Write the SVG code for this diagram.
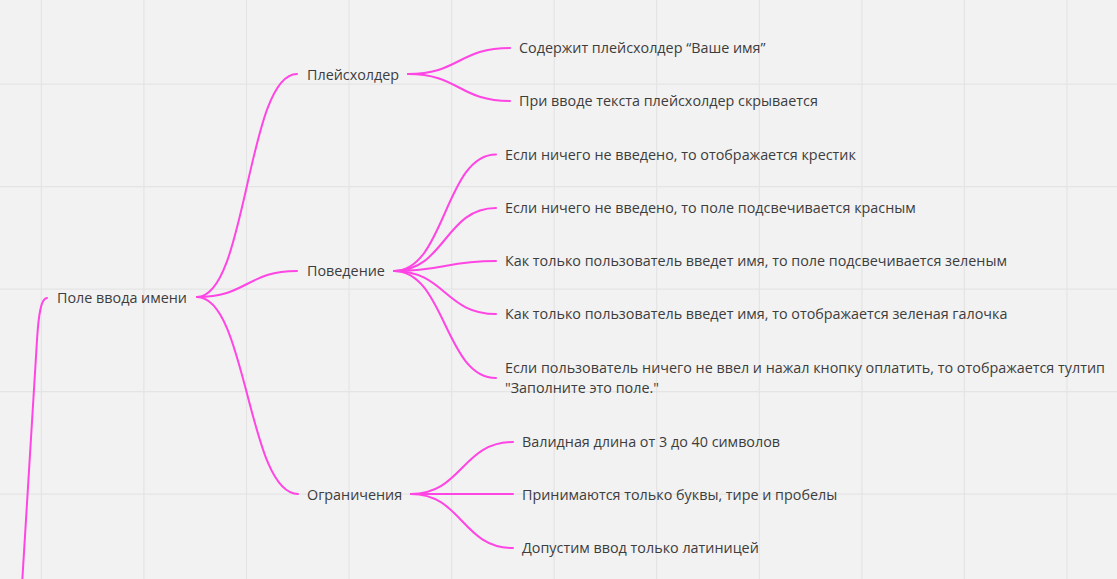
<svg xmlns="http://www.w3.org/2000/svg" width="1117" height="579" viewBox="0 0 1117 579">
<style>
.grid line{stroke:#e4e4e4;stroke-width:1.2}
.conn path{fill:none;stroke:#ff45e3;stroke-width:2;stroke-linecap:round}
text{font-family:"Open Sans","Noto Sans","Liberation Sans",sans-serif;font-size:14.35px;fill:#3d3d3d}
</style>
<rect x="0" y="0" width="1117" height="579" fill="#f2f2f2"/>
<g class="grid">
<line x1="41.3" y1="0" x2="41.3" y2="579"/>
<line x1="143.9" y1="0" x2="143.9" y2="579"/>
<line x1="246.5" y1="0" x2="246.5" y2="579"/>
<line x1="349" y1="0" x2="349" y2="579"/>
<line x1="451.6" y1="0" x2="451.6" y2="579"/>
<line x1="554.2" y1="0" x2="554.2" y2="579"/>
<line x1="656.7" y1="0" x2="656.7" y2="579"/>
<line x1="759.3" y1="0" x2="759.3" y2="579"/>
<line x1="861.9" y1="0" x2="861.9" y2="579"/>
<line x1="964.4" y1="0" x2="964.4" y2="579"/>
<line x1="1067" y1="0" x2="1067" y2="579"/>
<line x1="0" y1="84.2" x2="1117" y2="84.2"/>
<line x1="0" y1="186.7" x2="1117" y2="186.7"/>
<line x1="0" y1="289.2" x2="1117" y2="289.2"/>
<line x1="0" y1="391.7" x2="1117" y2="391.7"/>
<line x1="0" y1="494.2" x2="1117" y2="494.2"/>
</g>
<g id="connectors" class="conn">
<path d="M47,298 C41,298 38.5,315 37,340 L22,585"/>
<path d="M197,297 C247,297 247,74 297,74"/>
<path d="M197,297 C247,297 247,271 297,271"/>
<path d="M197,297 C247,297 248,494 298,494"/>
<path d="M408,74 C459,74 459,48 510,48"/>
<path d="M408,74 C459,74 459,101 510,101"/>
<path d="M394,271 C445,271 445,154.5 496,154.5"/>
<path d="M394,271 C445,271 445,208 496,208"/>
<path d="M394,271 C445,271 445,261 496,261"/>
<path d="M394,271 C445,271 445,314 496,314"/>
<path d="M394,271 C445,271 445,378 496,378"/>
<path d="M411,494 C462,494 462,442 513,442"/>
<path d="M411,494 L513,494"/>
<path d="M411,494 C462,494 462,548 513,548"/>
</g>
<g id="root"><text x="57" y="303">Поле ввода имени</text></g>
<g id="placeholder"><text x="307" y="80">Плейсхолдер</text></g>
<g id="behavior"><text x="307" y="276">Поведение</text></g>
<g id="limits"><text x="307" y="500">Ограничения</text></g>
<g id="p1"><text x="519" y="53">Содержит плейсхолдер “Ваше имя”</text></g>
<g id="p2"><text x="519" y="106">При вводе текста плейсхолдер скрывается</text></g>
<g id="b1"><text x="505" y="160">Если ничего не введено, то отображается крестик</text></g>
<g id="b2"><text x="505" y="213">Если ничего не введено, то поле подсвечивается красным</text></g>
<g id="b3"><text x="505" y="266">Как только пользователь введет имя, то поле подсвечивается зеленым</text></g>
<g id="b4"><text x="505" y="319">Как только пользователь введет имя, то отображается зеленая галочка</text></g>
<g id="b5"><text x="505" y="373">Если пользователь ничего не ввел и нажал кнопку оплатить, то отображается тултип</text><text x="505" y="393">"Заполните это поле."</text></g>
<g id="l1"><text x="522" y="447">Валидная длина от 3 до 40 символов</text></g>
<g id="l2"><text x="522" y="500">Принимаются только буквы, тире и пробелы</text></g>
<g id="l3"><text x="522" y="553">Допустим ввод только латиницей</text></g>
</svg>
